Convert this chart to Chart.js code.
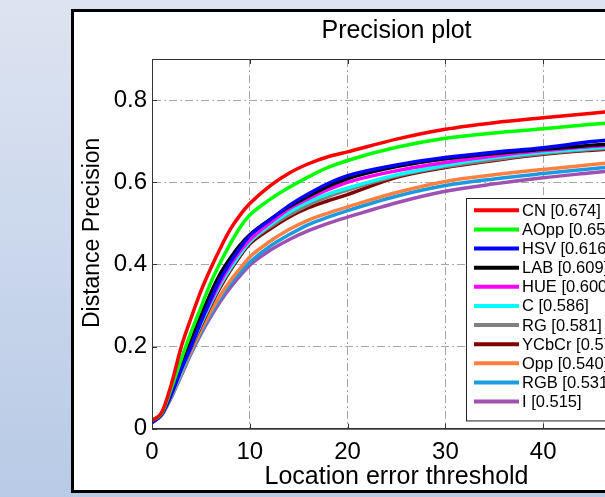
<!DOCTYPE html>
<html><head><meta charset="utf-8">
<script src="https://cdn.jsdelivr.net/npm/chart.js@4"></script>
<style>
html,body{margin:0;padding:0;width:605px;height:497px;overflow:hidden;}
body{background:linear-gradient(#dde4f1,#b8cae6);position:relative;}
#panel{position:absolute;left:71px;top:9px;width:800px;height:484px;background:#fff;border:3px solid #000;box-sizing:border-box;}
canvas{position:absolute;left:0;top:0;}
</style></head><body>
<div id="panel"></div>
<canvas id="c" width="793" height="497"></canvas>
<script>
const thresholds = [0,1,2,3,4,5,6,7,8,9,10,12,14,16,18,20,25,30,35,40,45,50];
const seriesNames  = ['CN','AOpp','HSV','LAB','HUE','C','RG','YCbCr','Opp','RGB','I'];
const seriesScores = [0.674,0.653,0.616,0.609,0.600,0.586,0.581,0.570,0.540,0.531,0.515];
const seriesColors = ['#ff0000','#00ff00','#0000ff','#000000','#ff00ff','#00ffff','#808080','#800000','#ff8040','#1a9be0','#a050b0'];
const cn    = [0.02,0.04,0.11,0.20,0.27,0.335,0.39,0.44,0.485,0.52,0.548,0.59,0.622,0.645,0.662,0.674,0.705,0.729,0.745,0.757,0.768,0.78];
const aopp  = [0.02,0.038,0.10,0.17,0.235,0.295,0.355,0.405,0.45,0.49,0.52,0.557,0.587,0.613,0.636,0.653,0.685,0.707,0.72,0.73,0.741,0.75];
const hsv   = [0.015,0.035,0.085,0.145,0.2,0.26,0.315,0.365,0.405,0.44,0.47,0.507,0.543,0.572,0.597,0.616,0.642,0.660,0.673,0.684,0.699,0.71];
const lab   = [0.018,0.038,0.09,0.155,0.215,0.275,0.33,0.378,0.415,0.447,0.472,0.508,0.54,0.566,0.59,0.609,0.638,0.657,0.670,0.680,0.690,0.698];
const hue   = [0.016,0.036,0.085,0.145,0.205,0.26,0.31,0.358,0.398,0.432,0.46,0.50,0.535,0.56,0.582,0.600,0.628,0.648,0.664,0.677,0.687,0.695];
const cc    = [0.016,0.036,0.083,0.14,0.2,0.255,0.305,0.352,0.39,0.425,0.455,0.495,0.527,0.552,0.571,0.586,0.618,0.641,0.66,0.673,0.683,0.69];
const rg    = [0.016,0.036,0.083,0.14,0.2,0.255,0.305,0.35,0.39,0.425,0.455,0.49,0.52,0.545,0.565,0.581,0.615,0.638,0.655,0.67,0.68,0.688];
const ycbcr = [0.016,0.036,0.083,0.14,0.198,0.25,0.3,0.345,0.385,0.42,0.45,0.485,0.515,0.538,0.555,0.570,0.612,0.636,0.653,0.668,0.678,0.686];
const opp   = [0.015,0.035,0.08,0.135,0.19,0.24,0.285,0.325,0.36,0.39,0.418,0.455,0.485,0.508,0.525,0.540,0.575,0.602,0.618,0.631,0.643,0.655];
const rgb   = [0.015,0.034,0.078,0.132,0.185,0.235,0.278,0.318,0.352,0.38,0.405,0.443,0.472,0.497,0.515,0.531,0.566,0.592,0.608,0.621,0.633,0.645];
const inten = [0.015,0.034,0.078,0.13,0.183,0.23,0.272,0.31,0.343,0.372,0.398,0.433,0.46,0.482,0.5,0.515,0.55,0.578,0.596,0.611,0.623,0.635];
const seriesValues = [cn,aopp,hsv,lab,hue,cc,rg,ycbcr,opp,rgb,inten];
const xTicks = [0,10,20,30,40,50];
const yTicks = [0,0.2,0.4,0.6,0.8];
const yAxisTitle = 'Distance Precision';

const FONT = "'Liberation Sans', Arial, Helvetica, sans-serif";

const datasets = seriesNames.map((n,i)=>({
  label: n + ' [' + seriesScores[i].toFixed(3) + ']',
  data: thresholds.map((t,k)=>({x:t, y:seriesValues[i][k]})),
  borderColor: seriesColors[i],
  backgroundColor: seriesColors[i],
  borderWidth: 3.5,
  pointRadius: 0,
  fill: false,
  cubicInterpolationMode: 'monotone'
}));

const boxPlugin = {
  id: 'boxlegend',
  afterDatasetsDraw(chart) {
    const {ctx, chartArea: a, scales} = chart;
    ctx.save();
    ctx.strokeStyle = '#333';
    ctx.lineWidth = 1;
    ctx.strokeRect(Math.round(a.left)+0.5, Math.round(a.top)+0.5, a.right-a.left, a.bottom-a.top);
    ctx.beginPath();
    xTicks.forEach(v=>{
      const px = Math.round(scales.x.getPixelForValue(v))+0.5;
      ctx.moveTo(px, a.bottom); ctx.lineTo(px, a.bottom-5);
      ctx.moveTo(px, a.top); ctx.lineTo(px, a.top+5);
    });
    yTicks.forEach(v=>{
      const py = Math.round(scales.y.getPixelForValue(v))+0.5;
      ctx.moveTo(a.left, py); ctx.lineTo(a.left+5, py);
      ctx.moveTo(a.right, py); ctx.lineTo(a.right-5, py);
    });
    ctx.stroke();
    // y-axis title
    ctx.save();
    ctx.translate(93, (a.top + a.bottom)/2 - 11);
    ctx.rotate(-Math.PI/2);
    ctx.font = '23px ' + FONT;
    ctx.fillStyle = '#000';
    ctx.textAlign = 'center';
    ctx.textBaseline = 'middle';
    ctx.fillText(yAxisTitle, 0, 0);
    ctx.restore();
    // legend (south-east)
    const n = chart.data.datasets.length;
    const rowH = 19.13;
    const lx = a.right - 175, lw = 167;
    const lh = n*rowH + 12;
    const ly = a.bottom - 8 - lh;
    ctx.fillStyle = '#fff';
    ctx.fillRect(lx, ly, lw, lh);
    ctx.strokeStyle = '#222';
    ctx.strokeRect(Math.round(lx)+0.5, Math.round(ly)+0.5, lw, lh);
    ctx.font = '16.5px ' + FONT;
    ctx.textBaseline = 'middle';
    ctx.textAlign = 'left';
    chart.data.datasets.forEach((ds,i)=>{
      const y = ly + 12 + i*rowH;
      ctx.strokeStyle = ds.borderColor;
      ctx.lineWidth = 4;
      ctx.beginPath(); ctx.moveTo(lx+8, y); ctx.lineTo(lx+53, y); ctx.stroke();
      ctx.fillStyle = '#000';
      ctx.fillText(ds.label, lx+56, y+1);
    });
    ctx.restore();
  }
};

new Chart(document.getElementById('c'), {
  type: 'line',
  data: { datasets },
  plugins: [boxPlugin],
  options: {
    responsive: false,
    animation: false,
    devicePixelRatio: 1,
    layout: { padding: 0 },
    plugins: {
      legend: { display: false },
      tooltip: { enabled: false },
      title: { display: true, text: 'Precision plot', color: '#000',
        font: { family: FONT, size: 25, weight: 'normal' },
        padding: { top: 16, bottom: 13 } }
    },
    scales: {
      x: {
        type: 'linear', min: 0, max: 50,
        afterBuildTicks: s => { s.ticks = xTicks.map(v=>({value:v})); },
        afterFit: s => { s.height = 68.3; },
        grid: { color: '#a8a8a8', lineWidth: 1, drawTicks: false },
        border: { dash: [8,3,2,3], color: '#333' },
        ticks: { color: '#000', font: { family: FONT, size: 24 }, padding: 9, maxRotation: 0, autoSkip: false,
          callback: v => String(v) },
        title: { display: true, text: 'Location error threshold', color: '#000',
          font: { family: FONT, size: 25 }, padding: { top: 0, bottom: 5 } }
      },
      y: {
        type: 'linear', min: 0, max: 0.9,
        afterBuildTicks: s => { s.ticks = yTicks.map(v=>({value:v})); },
        afterFit: s => { s.width = 152; },
        grid: { color: '#a8a8a8', lineWidth: 1, drawTicks: false },
        border: { dash: [8,3,2,3], color: '#333' },
        ticks: { color: '#000', font: { family: FONT, size: 24 }, padding: 5,
          callback: v => String(v) },
        title: { display: false }
      },
      spacer: {
        type: 'linear', position: 'right', min: 0, max: 1, display: true,
        afterFit: s => { s.width = 152; },
        grid: { display: false, drawOnChartArea: false },
        border: { display: false },
        ticks: { display: false }
      }
    }
  }
});
</script>
</body></html>
